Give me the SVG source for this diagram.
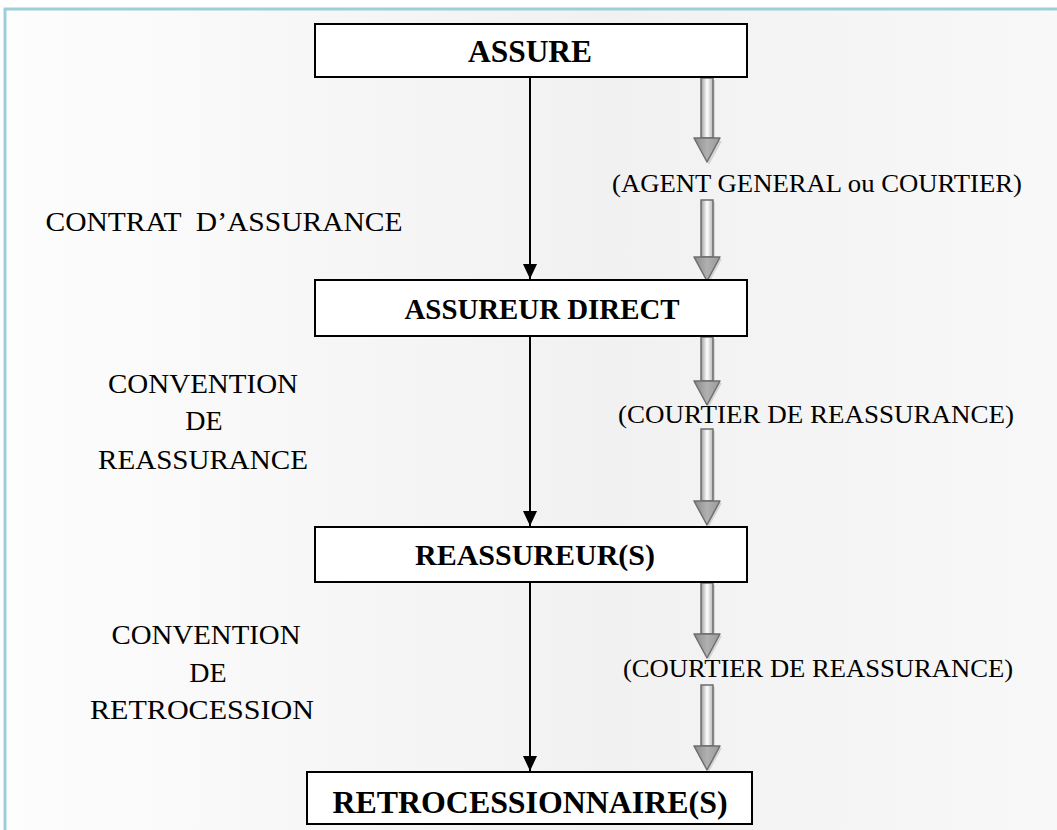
<svg xmlns="http://www.w3.org/2000/svg" width="1057" height="830" viewBox="0 0 1057 830">
<defs>
<linearGradient id="bg" x1="0" y1="0" x2="1" y2="0">
<stop offset="0" stop-color="#fdfdfd"/>
<stop offset="0.55" stop-color="#f1f1f1"/>
<stop offset="1" stop-color="#f9f9f9"/>
</linearGradient>
<linearGradient id="shaft" x1="0" y1="0" x2="1" y2="0">
<stop offset="0" stop-color="#9a9a9a"/>
<stop offset="0.5" stop-color="#ffffff"/>
<stop offset="1" stop-color="#b5b5b5"/>
</linearGradient>
<linearGradient id="head" x1="0" y1="0" x2="1" y2="0">
<stop offset="0" stop-color="#8a8a8a"/>
<stop offset="0.5" stop-color="#b0b0b0"/>
<stop offset="1" stop-color="#9a9a9a"/>
</linearGradient>
<marker id="ah" markerWidth="16" markerHeight="14" refX="15" refY="7" orient="auto" markerUnits="userSpaceOnUse">
<path d="M0,0 L15,7 L0,14 Z" fill="#000"/>
</marker>
</defs>
<style>
.box{fill:#fff;stroke:#000;stroke-width:2}
.bt{font-family:"Liberation Serif","Times New Roman",serif;font-weight:bold;text-anchor:middle;fill:#000}
.lt{font-family:"Liberation Serif","Times New Roman",serif;font-size:28px;text-anchor:middle;fill:#000}
.rt{font-family:"Liberation Serif","Times New Roman",serif;font-size:26px;text-anchor:middle;fill:#000}
.conn{stroke:#000;stroke-width:2;fill:none}
.sh{fill:url(#shaft);stroke:#6e6e6e;stroke-width:1.5}
.hd{fill:url(#head);stroke:#6e6e6e;stroke-width:1.5;stroke-linejoin:round}
.shadow{fill:#c8c8c8;opacity:0.7}
</style>
<rect x="0" y="0" width="1057" height="830" fill="#ffffff"/>
<rect x="5" y="9" width="1100" height="900" fill="url(#bg)" stroke="#9ccfdc" stroke-width="3"/>

<g id="connectors">
<line class="conn" x1="530" y1="77" x2="530" y2="279" marker-end="url(#ah)"/>
<line class="conn" x1="530" y1="336" x2="530" y2="526" marker-end="url(#ah)"/>
<line class="conn" x1="530" y1="582" x2="530" y2="771" marker-end="url(#ah)"/>
</g>

<g id="gray-arrows">
<g id="ga1">
<path class="shadow" d="M703,80 H715 V141 H722 L709,165 L696,141 H703 Z"/>
<rect class="sh" x="701" y="78" width="12" height="60"/>
<path class="hd" d="M694,138 H720 L707,162 Z"/>
</g>
<g id="ga2">
<path class="shadow" d="M703,202 H715 V259 H722 L709,283 L696,259 H703 Z"/>
<rect class="sh" x="701" y="200" width="12" height="57"/>
<path class="hd" d="M694,257 H720 L707,281 Z"/>
</g>
<g id="ga3">
<path class="shadow" d="M703,339 H715 V383 H722 L709,407 L696,383 H703 Z"/>
<rect class="sh" x="701" y="337" width="12" height="44"/>
<path class="hd" d="M694,381 H720 L707,405 Z"/>
</g>
<g id="ga4">
<path class="shadow" d="M703,431 H715 V503 H722 L709,527 L696,503 H703 Z"/>
<rect class="sh" x="701" y="429" width="12" height="72"/>
<path class="hd" d="M694,501 H720 L707,525 Z"/>
</g>
<g id="ga5">
<path class="shadow" d="M703,585 H715 V636 H722 L709,660 L696,636 H703 Z"/>
<rect class="sh" x="701" y="583" width="12" height="51"/>
<path class="hd" d="M694,634 H720 L707,658 Z"/>
</g>
<g id="ga6">
<path class="shadow" d="M703,687 H715 V748 H722 L709,772 L696,748 H703 Z"/>
<rect class="sh" x="701" y="685" width="12" height="61"/>
<path class="hd" d="M694,746 H720 L707,770 Z"/>
</g>
</g>

<g id="n-assure">
<rect class="box" x="315" y="24" width="432" height="53"/>
<text class="bt" x="530" y="62" font-size="31" textLength="124" lengthAdjust="spacingAndGlyphs">ASSURE</text>
</g>
<g id="n-assureur-direct">
<rect class="box" x="315" y="280" width="432" height="56"/>
<text class="bt" x="542" y="319" font-size="30" textLength="275" lengthAdjust="spacingAndGlyphs">ASSUREUR DIRECT</text>
</g>
<g id="n-reassureurs">
<rect class="box" x="315" y="527" width="432" height="55"/>
<text class="bt" x="535" y="565" font-size="30" textLength="240" lengthAdjust="spacingAndGlyphs">REASSUREUR(S)</text>
</g>
<g id="n-retro">
<rect class="box" x="307" y="772" width="445" height="52"/>
<text class="bt" x="530" y="813" font-size="32" textLength="395" lengthAdjust="spacingAndGlyphs">RETROCESSIONNAIRE(S)</text>
</g>

<g id="labels">
<text class="lt" x="224" y="231" textLength="357" lengthAdjust="spacingAndGlyphs" xml:space="preserve">CONTRAT  D’ASSURANCE</text>
<text class="lt" x="203" y="393" textLength="190" lengthAdjust="spacingAndGlyphs">CONVENTION</text>
<text class="lt" x="204" y="430">DE</text>
<text class="lt" x="203" y="469" textLength="210" lengthAdjust="spacingAndGlyphs">REASSURANCE</text>
<text class="lt" x="206" y="644" textLength="189" lengthAdjust="spacingAndGlyphs">CONVENTION</text>
<text class="lt" x="208" y="682">DE</text>
<text class="lt" x="202" y="719" textLength="224" lengthAdjust="spacingAndGlyphs">RETROCESSION</text>
<text class="rt" x="817" y="192" textLength="410" lengthAdjust="spacingAndGlyphs">(AGENT GENERAL ou COURTIER)</text>
<text class="rt" x="816" y="423" textLength="396" lengthAdjust="spacingAndGlyphs">(COURTIER DE REASSURANCE)</text>
<text class="rt" x="818" y="677" textLength="390" lengthAdjust="spacingAndGlyphs">(COURTIER DE REASSURANCE)</text>
</g>
</svg>
